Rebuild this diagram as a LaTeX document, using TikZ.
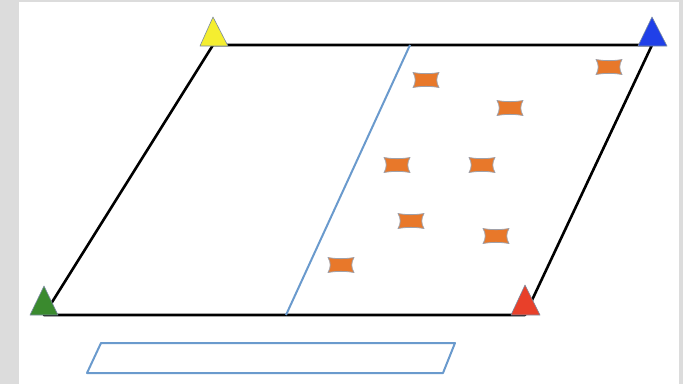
\documentclass[tikz,border=0pt]{standalone}
\begin{document}
\begin{tikzpicture}[x=1pt,y=-1pt,
  frame/.style={line width=2.6pt,black},
  divider/.style={line width=2pt,color=divblue},
  tri/.style={draw=triedge,line width=0.6pt,line join=round},
  tag/.pic={\filldraw[fill=tagorange,draw=taggray,line width=0.8pt,line join=round]
     (-13,-7.5) .. controls (-5,-6) and (5,-6) .. (13,-7.5)
     .. controls (10,-3) and (10,3) .. (13,7.5)
     .. controls (5,6) and (-5,6) .. (-13,7.5)
     .. controls (-10,3) and (-10,-3) .. (-13,-7.5) -- cycle;}
]
\definecolor{bggray}{HTML}{DCDCDC}
\definecolor{divblue}{HTML}{6A9ACD}
\definecolor{triedge}{HTML}{7A8AA0}
\definecolor{tagorange}{HTML}{E8782A}
\definecolor{taggray}{HTML}{A0A0A8}
\definecolor{tyellow}{HTML}{F4EE30}
\definecolor{tblue}{HTML}{2040E8}
\definecolor{tgreen}{HTML}{3A8A2E}
\definecolor{tred}{HTML}{E8402A}
% background
\fill[bggray] (0,0) rectangle (683,384);
\fill[white] (19,2) rectangle (679,384);
\useasboundingbox (0,0) rectangle (683,384);
% corners
\coordinate (tl) at (213,45);
\coordinate (tr) at (652,45);
\coordinate (br) at (525,315);
\coordinate (bl) at (44,315);
\coordinate (dt) at (410,45);
\coordinate (db) at (286,315);
\draw[frame,line join=round] (tl) -- (tr) -- (br) -- (bl) -- cycle;
\draw[divider] (dt) -- (db);
% triangles
\filldraw[tri,fill=tyellow] (213,17) -- (228,46) -- (200,46) -- cycle;
\filldraw[tri,fill=tblue] (652,17) -- (667,46) -- (638,46) -- cycle;
\filldraw[tri,fill=tgreen] (44,286) -- (58,315) -- (30,315) -- cycle;
\filldraw[tri,fill=tred] (525,285) -- (540,315) -- (511,315) -- cycle;
% tags
\pic at (426,80) {tag};
\pic at (510,108) {tag};
\pic at (609,67) {tag};
\pic at (397,165) {tag};
\pic at (482,165) {tag};
\pic at (411,221) {tag};
\pic at (496,236) {tag};
\pic at (341,265) {tag};
% bottom parallelogram
\draw[divider,line join=round] (101,343) -- (455,343) -- (443,373) -- (87,373) -- cycle;
\end{tikzpicture}
\end{document}
